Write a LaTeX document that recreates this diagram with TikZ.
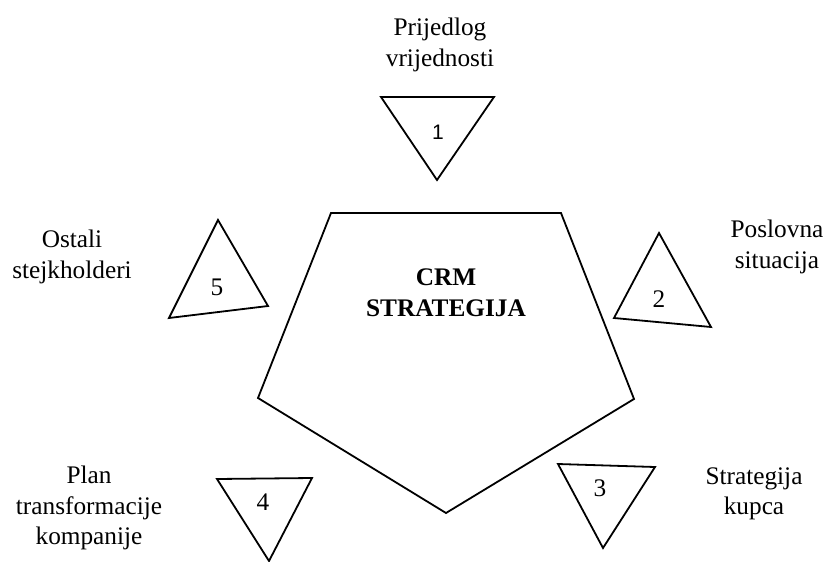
\documentclass[tikz,border=0pt]{standalone}
\usepackage{fontspec}
\setmainfont{Liberation Serif}
\newfontfamily\digsans{Liberation Sans}
\begin{document}
\begin{tikzpicture}[x=1pt,y=-1pt,
  shape line/.style={draw=black,line width=1.8pt,line join=miter},
  lbl/.style={font=\fontsize{25.3}{30.5}\selectfont,align=center,inner sep=0pt},
  numlbl/.style={font=\fontsize{25.3}{30.5}\selectfont,inner sep=0pt,anchor=base},
  crmlbl/.style={font=\fontsize{25.3}{31}\selectfont\bfseries,align=center,inner sep=0pt}]
\useasboundingbox (0,0) rectangle (830,562);
% central pentagon
\draw[shape line] (331,213) -- (561,213) -- (634,399) -- (446,513) -- (258,398) -- cycle;
\node[crmlbl] (crm) at (446,293) {CRM\\STRATEGIJA};
% triangle 1
\draw[shape line] (381,97) -- (494,97) -- (437,180) -- cycle;
\node[numlbl,font=\fontsize{21}{25}\digsans] (n1) at (438,139) {1};
\node[lbl] (t1) at (440,45) {Prijedlog\\vrijednosti};
% triangle 2
\draw[shape line] (659,233) -- (711,327) -- (614,318) -- cycle;
\node[numlbl] (n2) at (659,307) {2};
\node[lbl] (t2) at (777,247) {Poslovna\\situacija};
% triangle 3
\draw[shape line] (558,464) -- (655,467) -- (603,548) -- cycle;
\node[numlbl] (n3) at (600,496) {3};
\node[lbl] (t3) at (754,494) {Strategija\\kupca};
% triangle 4
\draw[shape line] (217,479) -- (312,478) -- (269,561) -- cycle;
\node[numlbl] (n4) at (263,510) {4};
\node[lbl] (t4) at (89,508) {Plan\\transformacije\\kompanije};
% triangle 5
\draw[shape line] (218,220) -- (268,306) -- (169,318) -- cycle;
\node[numlbl] (n5) at (217,295) {5};
\node[lbl] (t5) at (72,257) {Ostali\\stejkholderi};
\end{tikzpicture}
\end{document}
